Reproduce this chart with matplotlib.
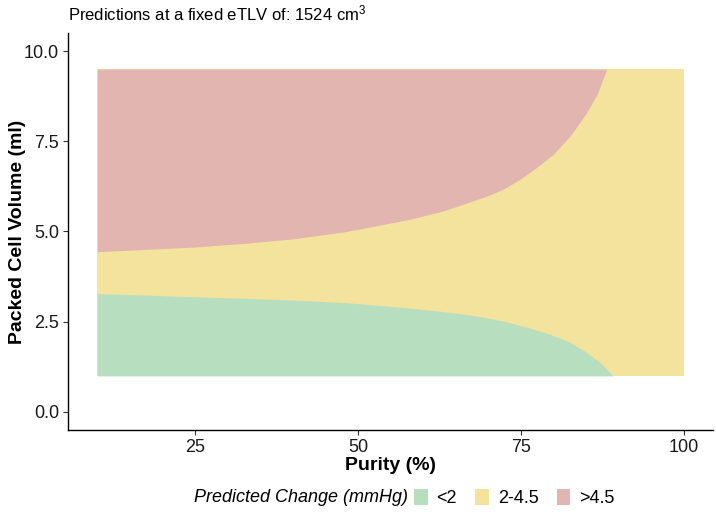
import matplotlib
matplotlib.use("Agg")
import matplotlib.pyplot as plt
from matplotlib.patches import Patch

plt.rcParams['font.family'] = ['Liberation Sans', 'DejaVu Sans']
plt.rcParams['mathtext.fontset'] = 'custom'
plt.rcParams['mathtext.rm'] = 'Liberation Sans'
plt.rcParams['mathtext.it'] = 'Liberation Sans:italic'

# Data
purity_range = [10, 100]
pcv_range = [1.0, 9.5]

upper_purity = [10, 17.2, 25, 32.5, 40.2, 47.9, 52.9, 58.0, 63.1, 69.8, 72.3, 74.9,
                77.4, 80.0, 82.6, 85.1, 86.7, 88.2]
upper_pcv = [4.44, 4.50, 4.57, 4.67, 4.80, 4.99, 5.16, 5.34, 5.57, 5.98, 6.17, 6.45,
             6.77, 7.14, 7.65, 8.29, 8.80, 9.5]

lower_purity = [10, 17.2, 25, 32.5, 40.2, 47.9, 52.9, 58.0, 63.1, 66.7, 69.8, 72.9,
                75.9, 79.0, 82.1, 84.6, 87.2, 89.2]
lower_pcv = [3.28, 3.24, 3.19, 3.15, 3.10, 3.03, 2.96, 2.88, 2.78, 2.70, 2.61, 2.49,
             2.35, 2.18, 1.97, 1.71, 1.37, 1.0]

categories = ['<2', '2-4.5', '>4.5']
colors = ['#B8DEC0', '#F4E39C', '#E3B5B0']

x_ticks = [25, 50, 75, 100]
y_ticks = [0.0, 2.5, 5.0, 7.5, 10.0]

fig = plt.figure(figsize=(7.16, 5.22), dpi=100)
ax = fig.add_axes([68/716, 1-430/522, (713-68)/716, (430-33)/522])

# yellow background band, green below lower boundary, red above upper boundary
ax.fill_between(purity_range, pcv_range[0], pcv_range[1], color=colors[1], lw=0)
ax.fill_between(lower_purity, pcv_range[0], lower_pcv, color=colors[0], lw=0)
ax.fill_between(upper_purity, upper_pcv, pcv_range[1], color=colors[2], lw=0)

ax.set_xlim(5.5, 104.5)
ax.set_ylim(-0.5, 10.5)
ax.set_xticks(x_ticks)
ax.set_xticklabels([str(t) for t in x_ticks])
ax.set_yticks(y_ticks)
ax.set_yticklabels([f"{t:.1f}" for t in y_ticks])

for s in ['top', 'right']:
    ax.spines[s].set_visible(False)
for s in ['left', 'bottom']:
    ax.spines[s].set_color('black')
    ax.spines[s].set_linewidth(1.0)
ax.tick_params(axis='both', direction='out', length=3.5, width=0.8, color='#333333',
               labelsize=13, labelcolor='#1a1a1a', pad=3)

ax.set_xlabel('Purity (%)', fontsize=14, fontweight='bold')
ax.xaxis.set_label_coords(0.5, -(465-430)/397, transform=ax.transAxes)
ax.set_ylabel('Packed Cell Volume (ml)', fontsize=14, fontweight='bold')
ax.yaxis.set_label_coords(-(68-18)/645, 0.5, transform=ax.transAxes)
ax.xaxis.label.set_va('center')
ax.yaxis.label.set_va('center')

fig.text(68/716, 1-13/522, 'Predictions at a fixed eTLV of: 1524 cm$^3$', fontsize=12,
         ha='left', va='center')

fig.text(408/716, 1-498/522, 'Predicted Change (mmHg)', fontsize=13, style='italic',
         ha='right', va='center')
handles = [Patch(facecolor=c, edgecolor='none') for c in colors]
fig.legend(handles, categories, loc='center left', bbox_to_anchor=(414/716, 1-498/522),
           ncol=3, frameon=False, fontsize=13, handlelength=0.75, handleheight=1.0,
           handletextpad=0.5, columnspacing=1.0, borderpad=0, borderaxespad=0)

fig.savefig('out.png', dpi=100)
